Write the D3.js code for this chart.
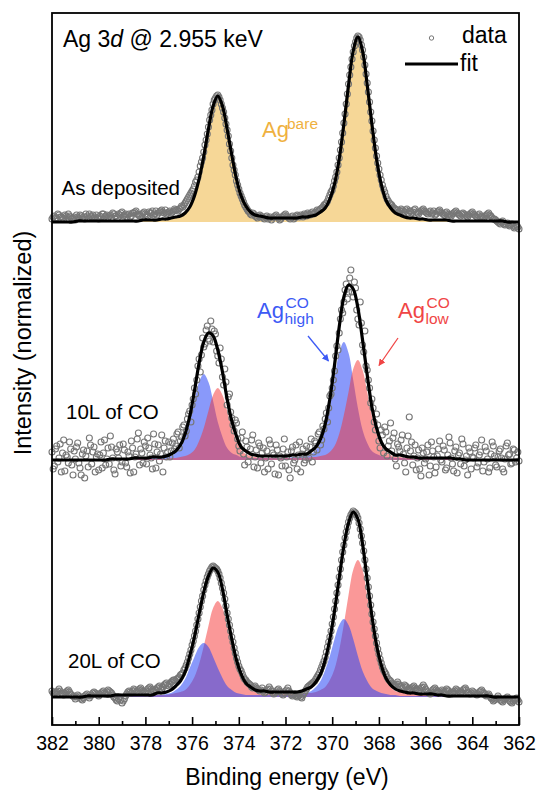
<!DOCTYPE html>
<html><head><meta charset="utf-8">
<script src="https://cdn.jsdelivr.net/npm/d3@7"></script>
<style>
body{margin:0;background:#fff;}
svg{display:block;font-family:"Liberation Sans",Arial,sans-serif;}
</style>
</head><body>
<svg id="chart" width="536" height="790"></svg>
<script>
// ---------------- data ----------------
const energyStart = 382, energyEnd = 362;
const dataStep = 0.1;          // spacing of measured points (eV)
const curveStep = 0.2;         // spacing of fitted-curve samples (eV)
const xTickValues = [382, 380, 378, 376, 374, 372, 370, 368, 366, 364, 362];
const xMinorTickValues = [381, 379, 377, 375, 373, 371, 369, 367, 365, 363];
const panelLabels = ["As deposited", "10L of CO", "20L of CO"];
const panelOffsets = [475, 237, 0];

// measured points at 382.0, 381.9 ... 362.0 eV
const asDepositedData = [
 3,6,4,7,5,3,6,8,5,4, 2,5,7,4,3,6,8,5,4,7, 3,5,8,6,4,7,9,6,4,7, 10,7,5,8,6,9,11,7,6,9,
 8,6,9,11,8,7,10,12,9,8, 10,9,11,12,11,14,15,19,23,27, 31,36,42,50,60,70,82,95,107,118,
 124,127,122,114,104,92,78,64,52,41, 33,26,20,15,11,8,9,6,4,7, 5,3,6,4,2,5,7,4,3,6,
 8,5,3,6,4,7,5,6,8,6, 8,9,8,10,11,13,15,18,21,27, 32,41,50,64,80,99,118,138,155,170,
 180,186,182,172,157,139,120,101,82,66, 53,42,33,26,21,18,15,13,12,11, 12,10,13,11,9,12,10,8,11,13,
 10,8,11,9,7,10,12,9,7,10, 8,6,9,11,8,6,9,7,5,8, 10,7,5,8,6,4,7,9,6,3, 2,0,-2,1,-3,-1,-4,-2,-6,-3, -7];
// measured points at 381.95, 381.85 ... 362.05 eV
const asDepositedDataMid = [
 5,4,8,5,4,7,5,6,3,5, 7,4,6,5,8,4,6,7,5,4, 6,8,5,7,6,4,8,6,8,9, 6,8,7,5,9,10,8,6,8,10,
 7,10,9,7,11,9,11,10,12,9, 11,10,13,12,13,16,17,21,25,29, 33,40,45,56,64,77,88,102,112,122,
 126,125,118,110,98,86,71,57,47,37, 29,23,17,13,10,7,8,5,6,6, 4,5,3,5,4,6,5,2,5,7,
 6,4,5,3,6,6,7,5,7,9, 7,10,9,12,12,14,17,19,24,30, 36,45,57,72,89,108,128,147,163,176,
 184,185,177,165,148,130,110,91,74,59, 47,37,30,23,19,17,14,12,10,13, 11,12,9,11,10,13,9,10,12,11,
 9,10,8,11,8,11,10,8,9,7, 7,8,10,9,7,8,8,6,7,9, 8,6,7,5,5,6,8,7,4,3, 1,-1,0,-2,-2,-3,-3,-4,-5,-5];
const co10Data = [
 8,-6,14,2,-12,20,5,-3,11,-15, 1,17,-8,6,-18,9,22,-4,13,3, -10,18,7,-5,12,24,2,-14,8,15,
 -2,10,-7,4,19,-12,6,27,11,-3, 14,22,5,-9,16,8,-1,25,12,3, 18,9,21,14,28,19,33,24,41,49,
 55,72,80,101,105,113,130,121,139,118, 126,104,112,83,91,55,66,42,29,37, 14,22,6,19,-2,11,25,3,-8,14,
 7,-12,9,20,-4,5,15,-15,2,11, -6,8,-18,13,0,-9,18,6,-3,14, 2,21,8,17,26,15,34,41,38,64,
 72,89,114,127,150,158,176,168,190,163, 172,141,158,115,129,90,72,61,38,46, 19,30,7,28,14,37,22,1,16,9,
 25,-3,12,43,18,4,-10,10,-16,7, 1,15,-6,9,-13,4,19,-2,10,-8, 23,2,-11,13,5,-4,16,0,-15,8,
 3,12,-7,5,20,-2,9,-12,6,14, -5,3,11,-9,1,17,6,-3,10,2, -1];
const co10DataMid = [
 -9,11,-2,16,7,-11,3,18,-5,9, 13,-3,-15,10,4,-7,15,8,-12,6, 5,-8,20,1,-4,13,-10,11,2,-6,
 16,-3,8,-13,12,3,21,-5,7,18, -4,12,2,26,-8,15,6,-12,19,8, 3,17,11,26,12,23,35,29,46,38,
 61,66,94,88,122,116,134,119,131,129, 109,97,101,75,78,63,48,35,40,21, 9,28,-5,13,4,20,-7,10,17,-3,
 12,2,-9,16,7,-14,10,4,-6,21, 3,-10,9,-3,15,5,-12,11,0,7, 13,-2,19,10,28,20,31,47,52,66,
 80,104,110,141,147,170,161,182,168,178, 150,135,137,108,94,80,57,52,30,35, 12,25,33,4,19,9,27,-6,13,20,
 6,-12,24,9,-5,15,2,-9,12,-3, 8,-15,18,3,-7,11,0,14,-10,5, 17,-4,9,-13,7,21,-6,4,12,-9,
 2,15,-3,8,-11,13,1,-8,18,4, -7,9,2,-12,14,5,-4,11,-2,8];
const co20Data = [
 6,3,5,8,4,2,5,7,3,1, -2,2,0,-3,1,3,-1,2,5,3, 1,4,6,3,7,5,2,-1,-4,0, -6,-2,3,6,4,8,5,7,9,6,
 4,8,10,7,5,9,11,8,12,14, 11,15,17,16,19,22,24,29,35,43, 52,61,72,84,96,107,116,123,128,131,
 129,126,119,109,98,84,72,60,49,39, 31,26,20,17,14,12,9,11,8,6, 9,4,7,10,6,3,5,8,5,2,
 6,9,4,1,3,0,2,-1,4,8, 11,13,15,18,22,27,33,40,50,60, 73,88,104,120,137,152,165,175,182,186,
 184,179,168,154,137,119,101,83,68,54, 43,34,27,23,18,16,13,12,15,11, 9,12,10,7,9,11,8,6,9,12,
 8,5,3,7,9,6,4,7,5,8, 6,3,5,8,6,4,7,9,5,3, 6,4,2,5,7,4,1,3,-1,-4, -2,1,-3,-5,-2,0,-4,-6,-3,-1, -5];
const co20DataMid = [
 4,5,6,6,3,4,6,5,2,0, 0,1,-2,-1,2,1,1,4,4,2, 3,5,4,5,6,4,0,-3,-2,-3, -4,1,5,5,6,7,6,8,7,5,
 6,9,8,6,7,10,9,10,13,12, 13,16,17,18,20,23,27,32,39,47, 56,66,78,90,101,112,120,126,130,130,
 128,123,114,104,91,78,66,55,44,35, 28,23,18,15,13,10,10,9,7,7, 6,5,8,8,4,4,7,6,3,4,
 7,6,2,2,1,1,0,2,6,10, 12,14,16,20,24,30,36,45,55,66, 80,96,112,128,145,159,170,179,184,185,
 182,174,161,146,128,110,92,75,61,48, 38,30,25,20,17,14,12,13,13,10, 10,11,8,8,10,9,7,7,10,10,
 6,4,5,8,7,5,5,6,6,7, 4,4,6,7,5,5,8,7,4,4, 5,3,3,6,5,2,2,1,-2,-3, -1,-1,-4,-3,-1,-2,-5,-4,-2,-3];

// fitted curves: 382.0, 381.9, 381.7 ... 362.1, 362.0 eV
const asDepositedFit = [
 0, 0,0,0,0,0,1,1,1,1,1, 1,1,1,1,1,1,1,1,1,2, 2,2,2,3,3,4,5,6,9,15, 26,43,66,93,116,126,116,93,67,43,
 26,16,10,7,6,5,4,4,4,4, 4,4,4,5,5,6,7,10,14,23, 38,63,98,137,171,185,171,137,98,63,
 38,22,14,9,7,5,4,4,3,3, 2,2,2,2,2,1,1,1,1,1, 1,1,1,1,1,1,1,0,0,0, 0];
const co10High = [
 0, 0,0,0,0,0,0,0,0,0,0, 0,0,1,1,1,1,1,1,1,1, 1,2,2,2,3,4,7,12,22,38, 59,78,86,78,59,38,23,12,7,5,
 3,3,2,2,2,2,2,2,2,2, 2,3,3,4,4,6,10,17,31,53, 81,107,118,107,80,52,30,17,9,6,
 4,3,3,2,2,2,1,1,1,1, 1,1,1,1,1,1,1,1,0,0, 0,0,0,0,0,0,0,0,0,0, 0];
const co10Low = [
 0, 0,0,0,0,0,0,0,0,0,0, 0,0,0,0,0,0,0,1,1,1, 1,1,1,1,1,2,2,3,4,6, 10,19,32,49,65,72,65,49,32,19,
 10,6,4,3,2,2,2,2,2,2, 2,2,2,2,2,3,3,4,5,8, 14,26,45,68,91,100,90,68,44,26,
 14,8,5,3,3,2,2,2,1,1, 1,1,1,1,1,1,0,0,0,0, 0,0,0,0,0,0,0,0,0,0, 0];
const co20High = [
 0, 0,0,0,0,0,0,0,0,0,0, 0,0,0,1,1,1,1,1,1,1, 1,1,2,2,3,4,7,11,18,29, 40,50,54,50,40,29,19,11,7,4,
 3,2,2,2,2,2,2,2,2,2, 2,2,2,3,4,6,10,16,27,41, 58,72,78,72,58,41,26,16,9,6,
 4,3,2,2,1,1,1,1,1,1, 1,1,1,1,0,0,0,0,0,0, 0,0,0,0,0,0,0,0,0,0, 0];
const co20Low = [
 0, 0,0,0,0,0,0,0,1,1,1, 1,1,1,1,1,1,1,1,1,1, 1,1,2,2,2,3,4,5,7,12, 20,33,51,71,89,96,89,71,51,33,
 20,12,8,5,4,4,3,3,3,3, 3,3,3,3,4,4,5,7,10,17, 28,47,73,102,127,137,127,101,72,46,
 28,16,10,6,5,4,3,3,2,2, 2,2,1,1,1,1,1,1,1,1, 1,1,1,1,0,0,0,0,0,0, 0];

// ---------------- layout ----------------
const svg = d3.select("#chart");
const plot = {left: 52, right: 519, top: 13, bottom: 725};
const x = d3.scaleLinear().domain([energyStart, energyEnd]).range([plot.left, plot.right]);
const y = d3.scaleLinear().domain([-28, 684]).range([plot.bottom, plot.top]);

const dataEnergy = asDepositedData.map((_, i) => +(energyStart - dataStep * i).toFixed(2));
const dataEnergyMid = asDepositedDataMid.map((_, i) => +(energyStart - dataStep / 2 - dataStep * i).toFixed(2));
const curveEnergy = [energyStart]
  .concat(d3.range(asDepositedFit.length - 2).map(k => +(energyStart - dataStep - curveStep * k).toFixed(1)))
  .concat([energyEnd]);

const colors = {
  bare: "#f6d797",
  high: "rgba(40,70,245,0.55)",
  low: "rgba(245,50,50,0.5)",
  highText: "#3d5af5",
  lowText: "#f04545",
  bareText: "#efb13f",
  data: "#777777"
};

const defs = svg.append("defs");
defs.append("clipPath").attr("id", "clip").append("rect")
  .attr("x", plot.left).attr("y", plot.top)
  .attr("width", plot.right - plot.left).attr("height", plot.bottom - plot.top);

function addMarker(id, color) {
  defs.append("marker").attr("id", id).attr("viewBox", "0 0 10 10")
    .attr("refX", 9).attr("refY", 5).attr("markerWidth", 7).attr("markerHeight", 7)
    .attr("markerUnits", "userSpaceOnUse").attr("orient", "auto")
    .append("path").attr("d", "M0,0 L10,5 L0,10 Z").attr("fill", color);
}
addMarker("arrowBlue", colors.highText);
addMarker("arrowRed", colors.lowText);

const sumSeries = (a, b) => a.map((v, i) => v + b[i]);
const panels = [
  {offset: panelOffsets[0], data: asDepositedData, dataMid: asDepositedDataMid,
   comps: [{vals: asDepositedFit, fill: colors.bare}], fit: asDepositedFit},
  {offset: panelOffsets[1], data: co10Data, dataMid: co10DataMid,
   comps: [{vals: co10High, fill: colors.high}, {vals: co10Low, fill: colors.low}],
   fit: sumSeries(co10High, co10Low)},
  {offset: panelOffsets[2], data: co20Data, dataMid: co20DataMid,
   comps: [{vals: co20Low, fill: colors.low}, {vals: co20High, fill: colors.high}],
   fit: sumSeries(co20High, co20Low)}
];

const curve = d3.curveCatmullRom.alpha(0.5);
const g = svg.append("g");

panels.forEach(p => {
  const pts = vals => vals.map((v, i) => ({e: curveEnergy[i], v}));
  const area = d3.area().x(d => x(d.e)).y0(y(p.offset)).y1(d => y(p.offset + d.v)).curve(curve);
  const line = d3.line().x(d => x(d.e)).y(d => y(p.offset + d.v)).curve(curve);
  const pg = g.append("g");
  p.comps.forEach(c => {
    pg.append("path").attr("clip-path", "url(#clip)").attr("d", area(pts(c.vals)))
      .attr("fill", c.fill).attr("stroke", "none");
  });
  const pointsAll = p.data.map((v, i) => ({e: dataEnergy[i], v}))
    .concat(p.dataMid.map((v, i) => ({e: dataEnergyMid[i], v})));
  pg.append("g").selectAll("circle").data(pointsAll).join("circle")
    .attr("cx", d => x(d.e)).attr("cy", d => y(p.offset + d.v))
    .attr("r", 3).attr("fill", "none").attr("stroke", colors.data).attr("stroke-width", 1.1);
  pg.append("path").attr("clip-path", "url(#clip)").attr("d", line(pts(p.fit)))
    .attr("fill", "none").attr("stroke", "#000").attr("stroke-width", 3.2);
});

// frame
svg.append("rect").attr("x", plot.left).attr("y", plot.top)
  .attr("width", plot.right - plot.left).attr("height", plot.bottom - plot.top)
  .attr("fill", "none").attr("stroke", "#000").attr("stroke-width", 1.8);

// axes
const axMajor = svg.append("g").attr("transform", `translate(0,${plot.bottom})`)
  .call(d3.axisBottom(x).tickValues(xTickValues).tickSize(-8).tickPadding(11).tickFormat(d3.format("d")));
axMajor.select(".domain").remove();
axMajor.selectAll("line").attr("stroke-width", 1.6);
axMajor.selectAll("text").attr("font-size", 19.5).attr("fill", "#000")
  .attr("font-family", "Liberation Sans, Arial, sans-serif");
const axMinor = svg.append("g").attr("transform", `translate(0,${plot.bottom})`)
  .call(d3.axisBottom(x).tickValues(xMinorTickValues).tickSize(-4).tickFormat(""));
axMinor.select(".domain").remove();
axMinor.selectAll("line").attr("stroke-width", 1.6);

svg.append("text").attr("x", 287).attr("y", 785)
  .attr("text-anchor", "middle").attr("font-size", 23).text("Binding energy (eV)");
svg.append("text").attr("transform", "translate(23,343) rotate(-90)")
  .attr("text-anchor", "middle").attr("dy", "0.35em").attr("font-size", 23.5)
  .text("Intensity (normalized)");

// title
const title = svg.append("text").attr("x", 63).attr("y", 47).attr("font-size", 23);
title.append("tspan").text("Ag 3");
title.append("tspan").attr("font-style", "italic").text("d");
title.append("tspan").text(" @ 2.955 keV");

// legend
svg.append("circle").attr("cx", 431.5).attr("cy", 38).attr("r", 2.2)
  .attr("fill", "none").attr("stroke", colors.data).attr("stroke-width", 1);
svg.append("text").attr("x", 462).attr("y", 43).attr("font-size", 23).text("data");
svg.append("line").attr("x1", 405).attr("x2", 458).attr("y1", 64).attr("y2", 64)
  .attr("stroke", "#000").attr("stroke-width", 3);
svg.append("text").attr("x", 460).attr("y", 71).attr("font-size", 23).text("fit");

// panel labels
const labelPos = [[61.5, 195], [66, 419], [68, 668]];
panelLabels.forEach((t, i) => {
  svg.append("text").attr("x", labelPos[i][0]).attr("y", labelPos[i][1])
    .attr("font-size", 20.5).text(t);
});

// component labels
function compLabel(xp, yp, sup, sub, color) {
  const t = svg.append("g").attr("fill", color);
  t.append("text").attr("x", xp).attr("y", yp).attr("font-size", 22).text("Ag");
  if (sup) t.append("text").attr("x", xp + 28.5).attr("y", yp - 10).attr("font-size", 15.5).text(sup);
  if (sub) t.append("text").attr("x", xp + 27.5).attr("y", yp + 6).attr("font-size", 15.5).text(sub);
}
compLabel(262, 137, null, null, colors.bareText);
svg.append("text").attr("x", 287).attr("y", 129).attr("font-size", 15.5)
  .attr("fill", colors.bareText).text("bare");
compLabel(257, 318, "CO", "high", colors.highText);
compLabel(398, 318, "CO", "low", colors.lowText);

// arrows
svg.append("line").attr("x1", 308).attr("y1", 336).attr("x2", 328.5).attr("y2", 361)
  .attr("stroke", colors.highText).attr("stroke-width", 1.3).attr("marker-end", "url(#arrowBlue)");
svg.append("line").attr("x1", 398).attr("y1", 338).attr("x2", 379).attr("y2", 365.5)
  .attr("stroke", colors.lowText).attr("stroke-width", 1.3).attr("marker-end", "url(#arrowRed)");
</script>
</body></html>
